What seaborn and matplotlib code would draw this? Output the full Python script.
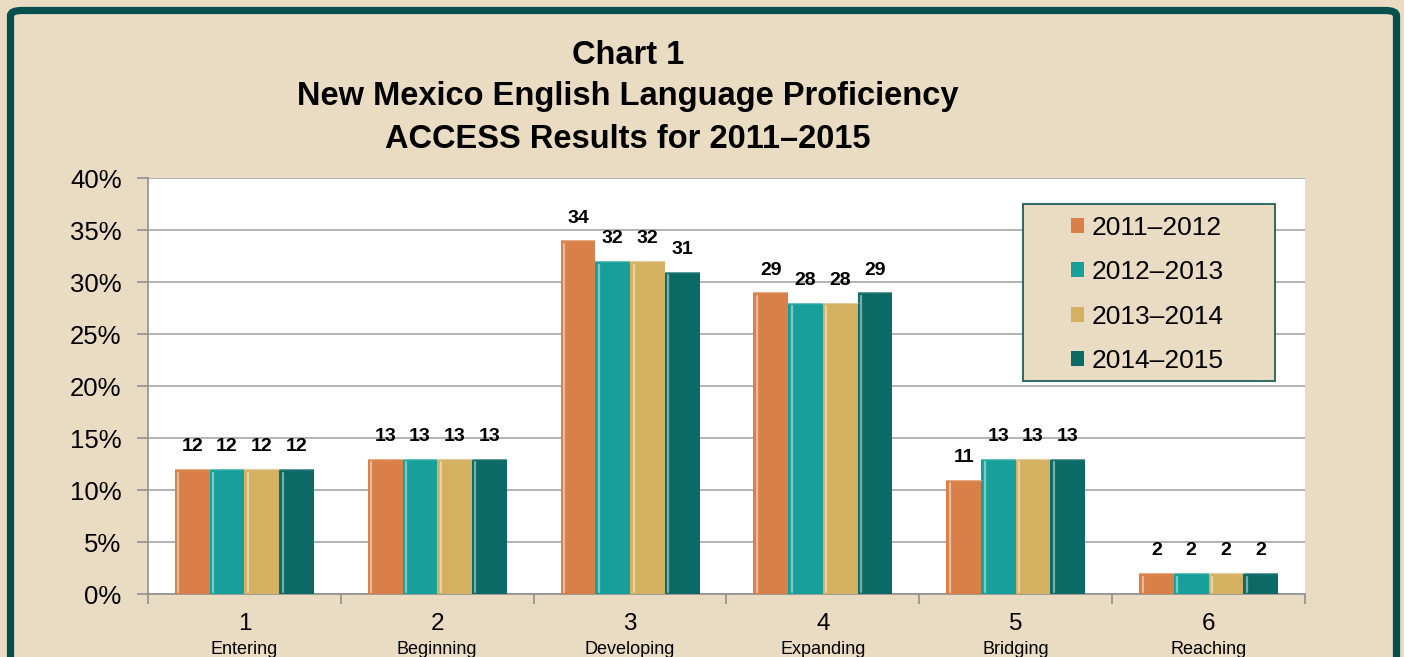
import matplotlib
matplotlib.use("Agg")
import matplotlib.pyplot as plt
import seaborn as sns
import pandas as pd
from matplotlib.patches import FancyBboxPatch, Patch, Rectangle
from matplotlib.ticker import FuncFormatter, FixedLocator
import matplotlib.transforms as mtransforms

levels = ["1", "2", "3", "4", "5", "6"]
level_names = ["Entering", "Beginning", "Developing", "Expanding", "Bridging", "Reaching"]
years = ["2011\u20132012", "2012\u20132013", "2013\u20132014", "2014\u20132015"]
v_2011 = [12, 13, 34, 29, 11, 2]
v_2012 = [12, 13, 32, 28, 13, 2]
v_2013 = [12, 13, 32, 28, 13, 2]
v_2014 = [12, 13, 31, 29, 13, 2]
colors = ["#D97F48", "#17A09A", "#D4B061", "#0B6A65"]
bg = "#E9DCC2"
frame = "#03504F"

rows = []
for yr, vals in zip(years, [v_2011, v_2012, v_2013, v_2014]):
    for lv, v in zip(levels, vals):
        rows.append({"level": lv, "year": yr, "value": v})
df = pd.DataFrame(rows)

sns.set_theme(style="white")
plt.rcParams["font.family"] = ["Liberation Sans", "DejaVu Sans"]

W, H = 1404, 657
fig = plt.figure(figsize=(W / 100, H / 100), dpi=100)
fig.patch.set_facecolor(bg)

# outer frame
fp = FancyBboxPatch((10.5 / W, -0.2), (1396.5 - 10.5) / W, 1.2 - 10.5 / H,
                    boxstyle="round,pad=0,rounding_size=0.008",
                    transform=fig.transFigure, facecolor="none", edgecolor=frame,
                    linewidth=5.2, zorder=0)
fig.patches.append(fp)

ax = fig.add_axes([148 / W, 63 / H, (1305 - 148) / W, (594 - 178) / H])
ax.set_facecolor("white")

sns.barplot(data=df, x="level", y="value", hue="year", palette=colors,
            width=0.72, gap=0, ax=ax, legend=False, zorder=3,
            edgecolor="none", linewidth=0, saturation=1)

# subtle bevel highlight
for bar in ax.patches:
    x0 = bar.get_x(); w = bar.get_width(); h = bar.get_height()
    ax.plot([x0 + w * 0.1, x0 + w * 0.1], [0.2, h - 0.35], color="white",
            alpha=0.45, lw=1.6, zorder=4, solid_capstyle="round")
    ax.plot([x0, x0 + w], [h, h], color="white", alpha=0.35, lw=1.0, zorder=4)

for cont in ax.containers:
    ax.bar_label(cont, labels=[f"{int(v)}" for v in cont.datavalues], padding=10,
                 fontsize=14, fontweight="bold", color="black")

ax.set_ylim(0, 40)
ax.set_xlim(-0.5, 5.5)
ax.set_yticks(range(0, 41, 5))
ax.yaxis.set_major_formatter(FuncFormatter(lambda v, p: f"{int(v)}%"))
ax.grid(axis="y", color="#A6A6A6", linewidth=1.2, zorder=0)
ax.set_axisbelow(True)
ax.set_xlabel("")
ax.set_ylabel("")

# x ticks at boundaries, labels at centers
ax.xaxis.set_major_locator(FixedLocator([i - 0.5 for i in range(7)]))
ax.xaxis.set_minor_locator(FixedLocator(list(range(6))))
ax.set_xticklabels([""] * 7)
ax.set_xticklabels(levels, minor=True)
ax.tick_params(axis="x", which="major", length=7, width=1.2, color="#909090", direction="out", bottom=True)
ax.tick_params(axis="x", which="minor", length=0, labelsize=17.5, pad=14, labelcolor="black")
ax.tick_params(axis="y", length=8, width=1.2, color="#909090", direction="out", left=True,
               labelsize=18.5, pad=11, labelcolor="black")

for s in ["top", "right"]:
    ax.spines[s].set_visible(False)
for s in ["left", "bottom"]:
    ax.spines[s].set_color("#909090")
    ax.spines[s].set_linewidth(1.2)

trans = mtransforms.blended_transform_factory(ax.transData, fig.transFigure)
for i, nm in enumerate(level_names):
    ax.text(i, 1 - 649 / H, nm, transform=trans, ha="center", va="center", fontsize=13,
            color="black", clip_on=False)

# title
title_font = ["Liberation Sans Narrow", "Liberation Sans", "DejaVu Sans"]
for txt, y in [("Chart 1", 55), ("New Mexico English Language Proficiency", 97),
               ("ACCESS Results for 2011\u20132015", 139)]:
    fig.text(628 / W, 1 - y / H, txt, ha="center", va="center", fontsize=23.5,
             fontweight="bold", family=title_font, color="black")

# legend box
fig.patches.append(Rectangle((1023 / W, 1 - 381 / H), (1275 - 1023) / W, (381 - 204) / H,
                             transform=fig.transFigure, facecolor=bg, edgecolor="#1F5F5A",
                             linewidth=1.3, zorder=9))
handles = [Patch(facecolor=c, edgecolor="none") for c in colors]
leg = fig.legend(handles, years, loc="upper left",
                 bbox_to_anchor=(1071 / W, 1 - 216 / H),
                 frameon=False, fontsize=19, handlelength=0.5, handleheight=0.5,
                 handletextpad=0.3, labelspacing=0.77, borderpad=0,
                 borderaxespad=0)
leg.set_zorder(10)
for t in leg.get_texts():
    t.set_color("black")

fig.savefig("out.png", dpi=100, facecolor=bg)
